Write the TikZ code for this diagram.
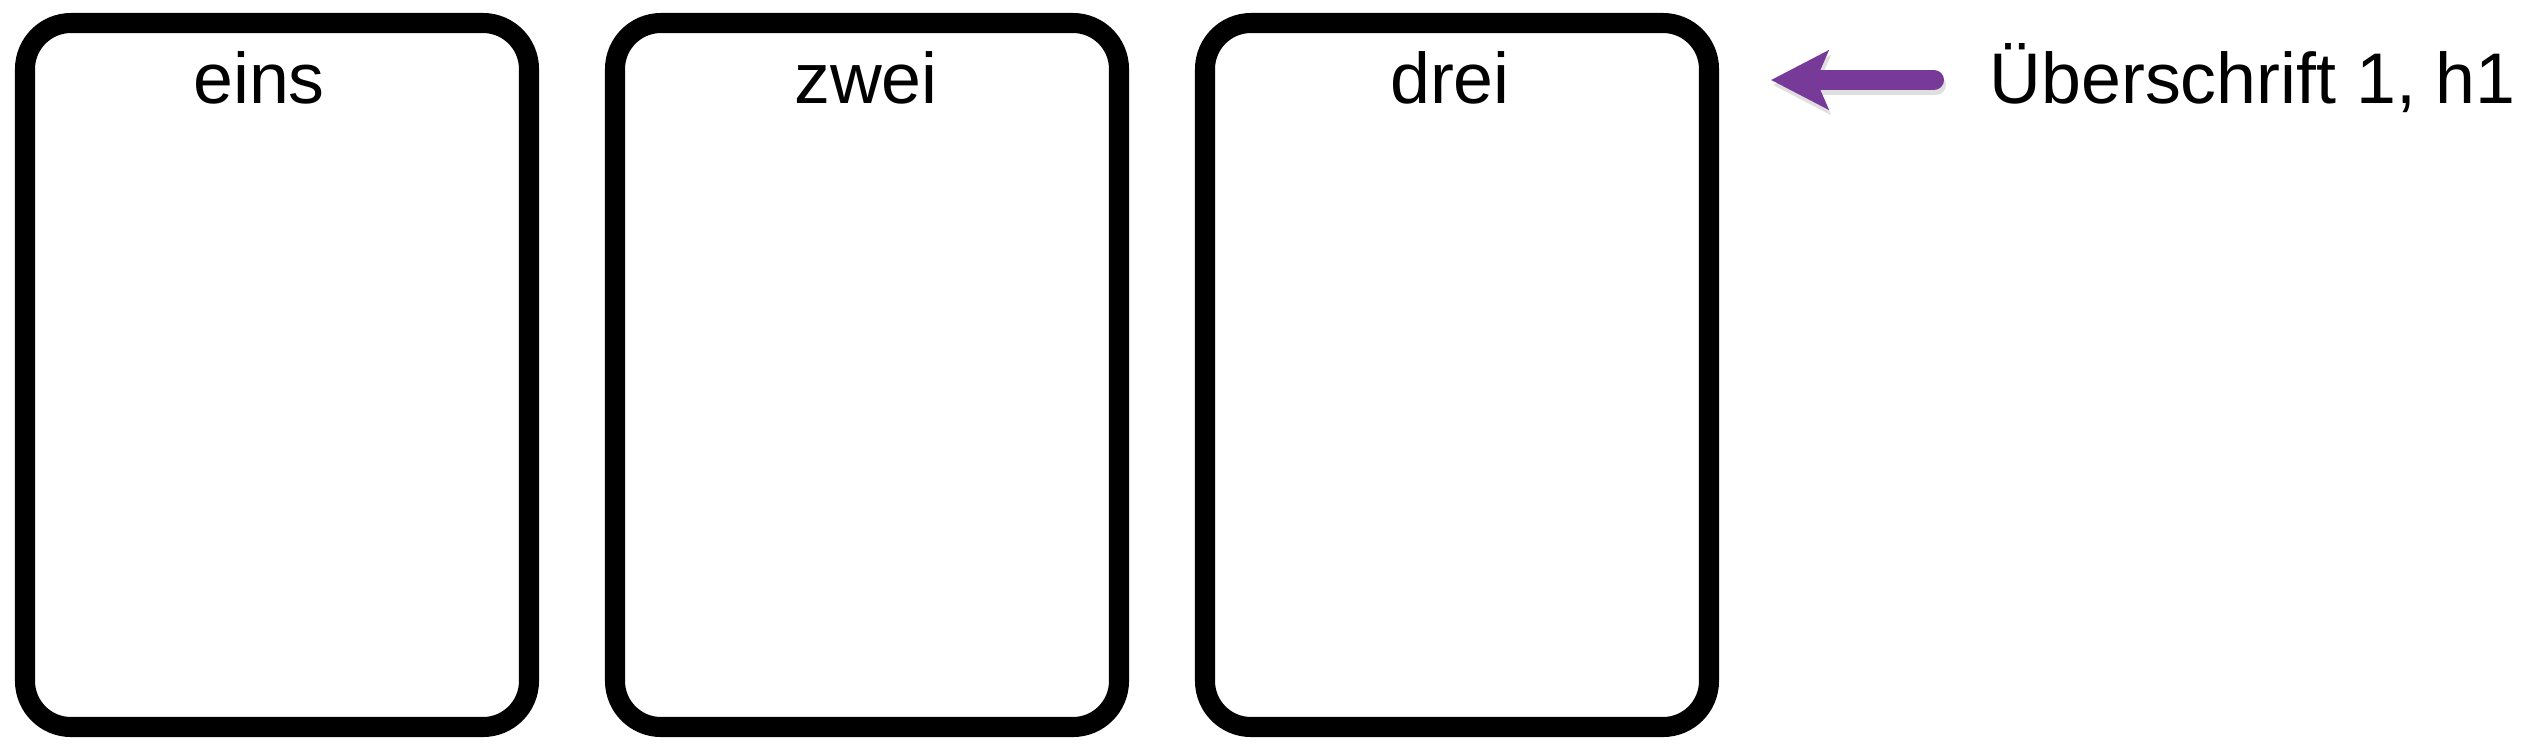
\documentclass[tikz,border=0pt]{standalone}
\usepackage{fontspec}
\setmainfont{Liberation Sans}
\usetikzlibrary{arrows.meta}
\definecolor{pfeillila}{HTML}{783A98}
\begin{document}
\begin{tikzpicture}[
    kasten/.style={draw, line width=5.7pt, rounded corners=0.46cm,
                   minimum width=5.04cm, minimum height=7.04cm, inner sep=0pt},
    beschriftung/.style={inner sep=0pt, font=\fontsize{20.4pt}{24pt}\selectfont},
    pfeil/.style={line width=0.2cm, line cap=round,
                  -{Stealth[length=0.57cm, width=0.58cm, inset=0.12cm]}}
  ]
    \useasboundingbox (0,0) rectangle (25.22,7.52);
    \node[kasten] (kasten1) at (2.77,3.77)  {};
    \node[kasten] (kasten2) at (8.67,3.77)  {};
    \node[kasten] (kasten3) at (14.57,3.77) {};

    \node[beschriftung, anchor=base] (eins) at (2.59,6.49)  {eins};
    \node[beschriftung, anchor=base] (zwei) at (8.66,6.49)  {zwei};
    \node[beschriftung, anchor=base] (drei) at (14.50,6.49) {drei};

    \node[beschriftung, anchor=base west] (ueberschrift) at (19.89,6.49) {Überschrift 1, h1};
    \coordinate (spitze) at (17.71,6.72);

%    Schatten
    \draw[pfeil, gray, opacity=0.25, transform canvas={xshift=0.02cm, yshift=-0.05cm}]
        (ueberschrift.west |- spitze) [shorten <=0.55cm] to (spitze);
    \draw[pfeil, pfeillila] (ueberschrift.west |- spitze) [shorten <=0.55cm] to (spitze);
\end{tikzpicture}
\end{document}
